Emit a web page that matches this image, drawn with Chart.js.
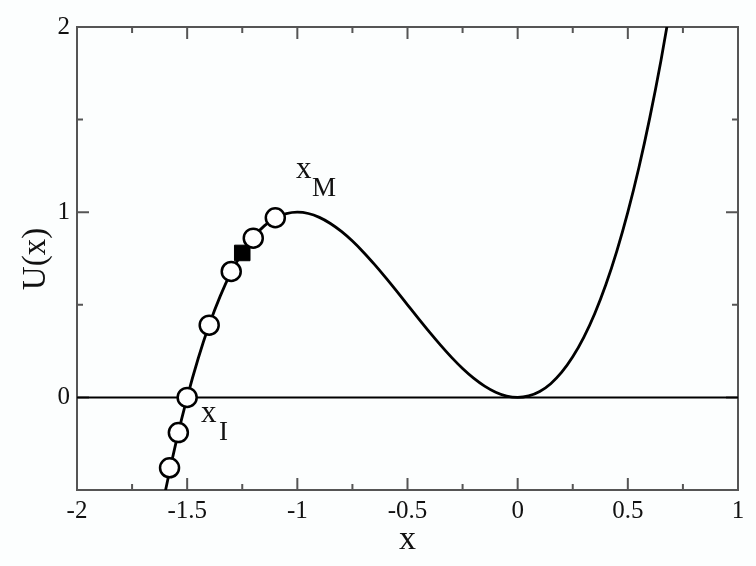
<!DOCTYPE html>
<html>
<head>
<meta charset="utf-8">
<script src="https://cdn.jsdelivr.net/npm/chart.js@4"></script>
<style>
  html, body { margin: 0; padding: 0; background: #fcfefe; }
  #wrap { width: 756px; height: 566px; }
</style>
</head>
<body>
<div id="wrap"><canvas id="chart" width="756" height="566"></canvas></div>
<script>
// curve U(x)
const curveX = [-1.65, -1.6, -1.55, -1.5, -1.45, -1.4, -1.35, -1.3, -1.25, -1.2, -1.15, -1.1, -1.05, -1.0,
    -0.95, -0.9, -0.85, -0.8, -0.75, -0.7, -0.65, -0.6, -0.55, -0.5, -0.45, -0.4, -0.35, -0.3, -0.25,
    -0.2, -0.15, -0.1, -0.05, 0, 0.05, 0.1, 0.15, 0.2, 0.25, 0.3, 0.35, 0.4, 0.45, 0.5, 0.55, 0.6, 0.65, 0.7];
const curveU = [-0.817, -0.512, -0.240, 0, 0.210, 0.392, 0.547, 0.676, 0.781, 0.864, 0.926, 0.968, 0.992, 1.0,
    0.993, 0.972, 0.939, 0.896, 0.844, 0.784, 0.718, 0.648, 0.575, 0.5, 0.425, 0.352, 0.282, 0.216, 0.156,
    0.104, 0.061, 0.028, 0.007, 0, 0.008, 0.032, 0.074, 0.136, 0.219, 0.324, 0.453, 0.608, 0.790, 1.0,
    1.240, 1.512, 1.817, 2.156];

// open circles and filled square
const openX = [-1.58, -1.54, -1.5, -1.4, -1.3, -1.2, -1.1];
const openU = [-0.38, -0.19, 0, 0.39, 0.68, 0.86, 0.97];
const filledX = [-1.25];
const filledU = [0.78];

// axes
const xMajor = [-2, -1.5, -1, -0.5, 0, 0.5, 1];
const xTickLabels = ["-2", "-1.5", "-1", "-0.5", "0", "0.5", "1"];
const xMinor = [-1.75, -1.25, -0.75, -0.25, 0.25, 0.75];
const yMajor = [0, 1, 2];
const yTickLabels = ["0", "1", "2"];
const yMinor = [-0.5, 0.5, 1.5];

const SERIF = "'Liberation Serif', 'DejaVu Serif', serif";

const toPts = (xs, ys) => xs.map((x, i) => ({ x, y: ys[i] }));

const frameAndText = {
    id: "frameAndText",
    beforeDatasetsDraw(chart) {
        const { ctx, chartArea: a, scales } = chart;
        const xs = scales.x, ys = scales.y;
        ctx.save();
        ctx.strokeStyle = "#555";
        ctx.lineWidth = 2;
        ctx.strokeRect(a.left, a.top, a.right - a.left, a.bottom - a.top);

        const tick = (px, len, vertical) => {
            ctx.beginPath();
            if (vertical) {
                ctx.moveTo(px, a.bottom); ctx.lineTo(px, a.bottom - len);
                ctx.moveTo(px, a.top); ctx.lineTo(px, a.top + len);
            } else {
                ctx.moveTo(a.left, px); ctx.lineTo(a.left + len, px);
                ctx.moveTo(a.right, px); ctx.lineTo(a.right - len, px);
            }
            ctx.stroke();
        };
        xMajor.forEach((v) => tick(xs.getPixelForValue(v), 12, true));
        xMinor.forEach((v) => tick(xs.getPixelForValue(v), 6, true));
        yMajor.forEach((v) => tick(ys.getPixelForValue(v), 12, false));
        yMinor.forEach((v) => tick(ys.getPixelForValue(v), 6, false));
        ctx.restore();
    },
    afterDraw(chart) {
        const { ctx, chartArea: a, scales } = chart;
        const xs = scales.x, ys = scales.y;
        ctx.save();
        ctx.fillStyle = "#111";
        ctx.font = `25px ${SERIF}`;
        ctx.textAlign = "center";
        ctx.textBaseline = "alphabetic";
        xMajor.forEach((v, i) => ctx.fillText(xTickLabels[i], xs.getPixelForValue(v), 518));
        ctx.textAlign = "right";
        ctx.textBaseline = "middle";
        yMajor.forEach((v, i) => ctx.fillText(yTickLabels[i], 70, ys.getPixelForValue(v)));

        // axis titles
        ctx.font = `34px ${SERIF}`;
        ctx.textAlign = "center";
        ctx.textBaseline = "alphabetic";
        ctx.fillText("x", (a.left + a.right) / 2, 549);
        ctx.save();
        ctx.translate(45, 259);
        ctx.rotate(-Math.PI / 2);
        ctx.font = `33px ${SERIF}`;
        ctx.fillText("U(x)", 0, 0);
        ctx.restore();

        // point annotations
        ctx.textAlign = "left";
        ctx.font = `31px ${SERIF}`;
        ctx.fillText("x", 296, 178);
        ctx.font = `27px ${SERIF}`;
        ctx.fillText("M", 312, 196);
        ctx.font = `31px ${SERIF}`;
        ctx.fillText("x", 201, 422);
        ctx.font = `27px ${SERIF}`;
        ctx.fillText("I", 219, 440);
        ctx.restore();
    },
};

new Chart(document.getElementById("chart"), {
    type: "scatter",
    data: {
        datasets: [
            {
                label: "open",
                data: toPts(openX, openU),
                pointStyle: "circle",
                pointRadius: 9.5,
                pointBackgroundColor: "#fff",
                pointBorderColor: "#000",
                pointBorderWidth: 2.5,
                showLine: false,
                order: 0,
            },
            {
                label: "filled",
                data: toPts(filledX, filledU),
                pointStyle: "rect",
                pointRadius: 11,
                pointBackgroundColor: "#000",
                pointBorderColor: "#000",
                pointBorderWidth: 1,
                showLine: false,
                order: 1,
            },
            {
                label: "U(x)",
                data: toPts(curveX, curveU),
                showLine: true,
                borderColor: "#000",
                borderWidth: 2.8,
                pointRadius: 0,
                cubicInterpolationMode: "monotone",
                order: 2,
            },
            {
                label: "zero",
                data: [{ x: -2, y: 0 }, { x: 1, y: 0 }],
                showLine: true,
                borderColor: "#000",
                borderWidth: 2,
                pointRadius: 0,
                order: 3,
            },
        ],
    },
    options: {
        responsive: false,
        animation: false,
        layout: { padding: { left: 77, right: 18, top: 27, bottom: 76 } },
        plugins: { legend: { display: false }, tooltip: { enabled: false } },
        scales: {
            x: { type: "linear", min: -2, max: 1, display: false },
            y: { type: "linear", min: -0.5, max: 2, display: false },
        },
    },
    plugins: [frameAndText],
});
</script>
</body>
</html>
